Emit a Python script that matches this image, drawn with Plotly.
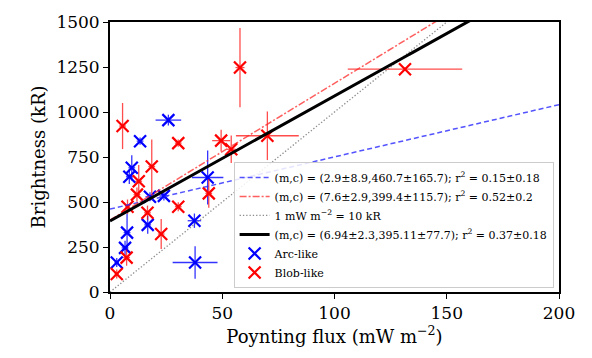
import plotly.graph_objects as go
import numpy as np

# Arc-like data
arc_x = [26.0, 13.4, 9.7, 8.6, 43.5, 17.8, 24.0, 16.8, 37.6, 7.6, 6.7, 37.9, 3.0]
arc_y = [955, 838, 690, 640, 636, 529, 534, 373, 396, 330, 245, 164, 164]
arc_xerr = [5.7, 1.5, 1.5, 1.5, 7.0, 2.0, 2.0, 1.5, 3.0, 1.5, 1.5, 10.0, 1.0]
arc_yerr = [30, 20, 70, 40, 150, 25, 25, 50, 40, 105, 40, 90, 25]

# Blob-like data
blob_x = [5.6, 30.4, 18.6, 12.8, 12.0, 7.8, 30.4, 44.0, 16.7, 22.8, 7.4, 3.0, 57.9, 49.5, 54.0, 70.1, 131.4]
blob_y = [922, 827, 697, 615, 541, 474, 474, 548, 440, 322, 191, 100, 1247, 841, 793, 868, 1238]
blob_xerr = [1.5, 1.5, 1.5, 1.5, 1.5, 1.0, 1.5, 1.5, 1.5, 1.5, 1.5, 1.0, 2.0, 4.0, 2.0, 14.0, 25.5]
blob_yerr = [128, 20, 150, 90, 40, 40, 25, 80, 40, 83, 45, 25, 220, 60, 77, 135, 10]

# Fit lines (slope, intercept)
fit_arc = (2.9, 460.7)
fit_blob = (7.6, 399.4)
fit_all = (6.94, 395.11)
ref_slope = 10.0

labels = [
    "(m,c) = (2.9±8.9,460.7±165.7); r<sup>2</sup> = 0.15±0.18",
    "(m,c) = (7.6±2.9,399.4±115.7); r<sup>2</sup> = 0.52±0.2",
    "1 mW m<sup>−2</sup> = 10 kR",
    "(m,c) = (6.94±2.3,395.11±77.7); r<sup>2</sup> = 0.37±0.18",
]

xx = np.linspace(0, 200, 401)
font = "'DejaVu Serif', 'Liberation Serif', serif"

fig = go.Figure()

fig.add_trace(go.Scatter(
    x=arc_x, y=arc_y, mode="markers", name="Arc-like", legendrank=5,
    marker=dict(symbol="x-thin", size=12, line=dict(width=2.2, color="#0000ff"), color="#0000ff"),
    error_x=dict(type="data", array=arc_xerr, thickness=1.3, width=0, color="rgba(0,0,255,0.8)"),
    error_y=dict(type="data", array=arc_yerr, thickness=1.3, width=0, color="rgba(0,0,255,0.8)"),
))
fig.add_trace(go.Scatter(
    x=blob_x, y=blob_y, mode="markers", name="Blob-like", legendrank=6,
    marker=dict(symbol="x-thin", size=12, line=dict(width=2.2, color="#ff0000"), color="#ff0000"),
    error_x=dict(type="data", array=blob_xerr, thickness=1.3, width=0, color="rgba(255,0,0,0.7)"),
    error_y=dict(type="data", array=blob_yerr, thickness=1.3, width=0, color="rgba(255,0,0,0.7)"),
))

fig.add_trace(go.Scatter(
    x=xx, y=fit_arc[0] * xx + fit_arc[1], mode="lines", name=labels[0], legendrank=1,
    line=dict(color="rgba(40,40,255,0.8)", width=1.5, dash="5px,3px"),
))
fig.add_trace(go.Scatter(
    x=xx, y=fit_blob[0] * xx + fit_blob[1], mode="lines", name=labels[1], legendrank=2,
    line=dict(color="rgba(255,40,40,0.75)", width=1.5, dash="7px,2px,2px,2px"),
))
fig.add_trace(go.Scatter(
    x=xx, y=ref_slope * xx, mode="lines", name=labels[2], legendrank=3,
    line=dict(color="rgba(128,128,128,0.9)", width=1.3, dash="1.3px,2px"),
))
fig.add_trace(go.Scatter(
    x=xx, y=fit_all[0] * xx + fit_all[1], mode="lines", name=labels[3], legendrank=4,
    line=dict(color="black", width=3),
))

axis_common = dict(
    showline=True, linecolor="black", linewidth=1.8, mirror=True,
    ticks="outside", ticklen=5, tickwidth=1.3, tickcolor="black",
    showgrid=False, zeroline=False,
    tickfont=dict(family=font, size=17, color="black"),
)

fig.update_xaxes(range=[0, 200], tickvals=[0, 50, 100, 150, 200],
                 title=dict(text="Poynting flux (mW m<sup>−2</sup>)", font=dict(family=font, size=18, color="black"), standoff=4),
                 **axis_common)
fig.update_yaxes(range=[0, 1500], tickvals=[0, 250, 500, 750, 1000, 1250, 1500],
                 title=dict(text="Brightness (kR)", font=dict(family=font, size=18, color="black"), standoff=6),
                 **axis_common)

fig.update_layout(
    width=592, height=358,
    margin=dict(l=110, r=33, t=15, b=66),
    plot_bgcolor="white", paper_bgcolor="white",
    font=dict(family=font, color="black"),
    legend=dict(
        x=0.988, y=0.015, xanchor="right", yanchor="bottom",
        bgcolor="rgba(255,255,255,0.85)", bordercolor="#cccccc", borderwidth=1,
        font=dict(family=font, size=11, color="black"),
        tracegroupgap=0, itemwidth=30,
    ),
    showlegend=True,
)

fig.write_html("out.html")
